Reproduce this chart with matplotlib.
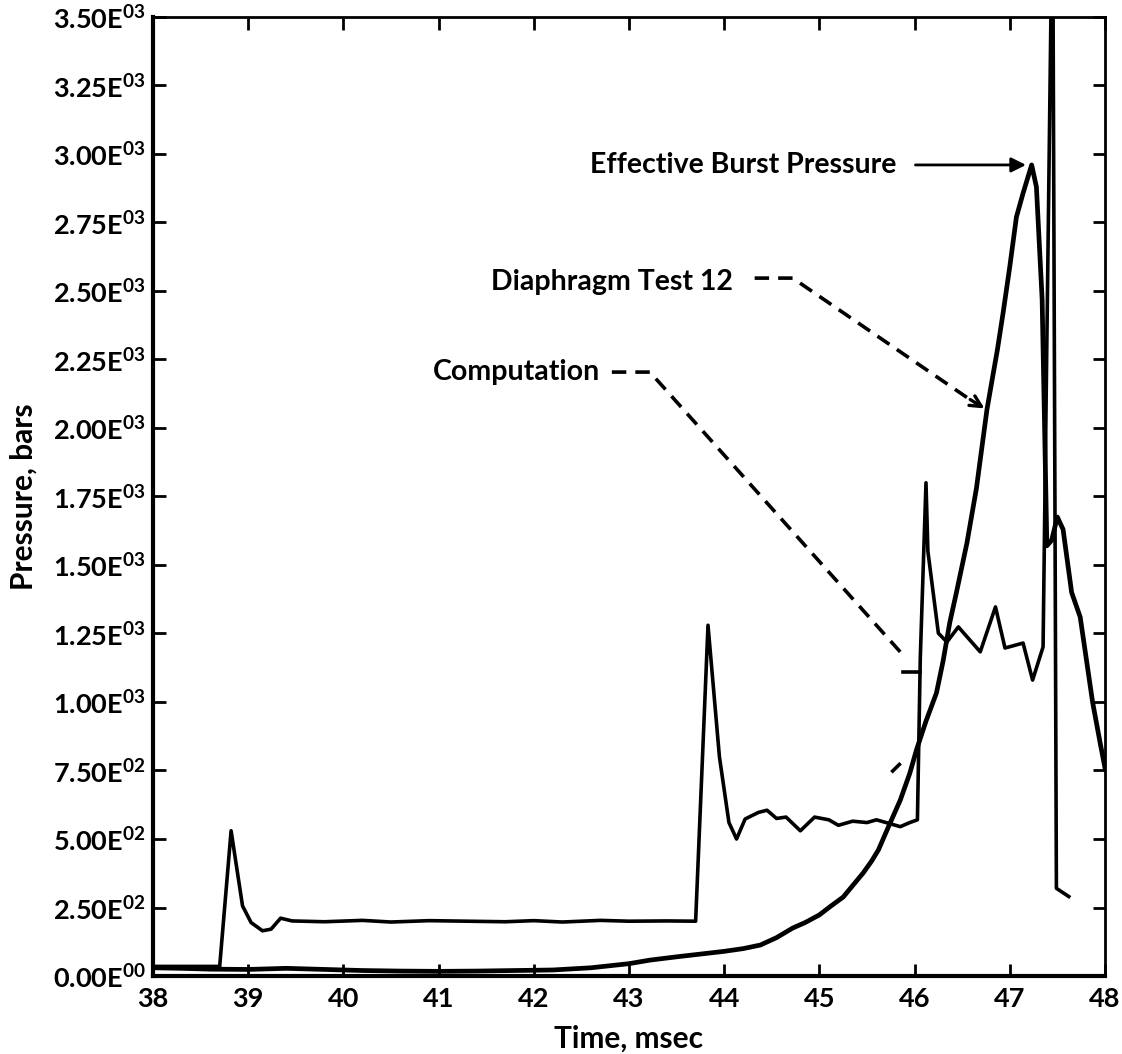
import matplotlib
matplotlib.use('Agg')
import matplotlib.pyplot as plt

plt.rcParams['font.family'] = ['Lato', 'DejaVu Sans']
plt.rcParams['font.weight'] = 'bold'
plt.rcParams['mathtext.fontset'] = 'custom'
plt.rcParams['mathtext.rm'] = 'Lato:bold'

# computation (step-like trace)
comp_t = [38.0, 38.70, 38.82, 38.94, 39.03, 39.15, 39.24, 39.34, 39.46, 39.8,
          40.2, 40.5, 40.9, 41.3, 41.7, 42.0, 42.3, 42.7, 43.0, 43.4,
          43.70, 43.83, 43.95, 44.05, 44.13, 44.22, 44.36, 44.45, 44.55, 44.65,
          44.8, 44.95, 45.1, 45.2, 45.35, 45.5, 45.6, 45.75, 45.85, 45.95,
          46.03, 46.06, 46.12, 46.14, 46.25, 46.34, 46.46, 46.69, 46.85, 46.95,
          47.14, 47.24, 47.35, 47.45, 47.49, 47.62]
comp_p = [35, 35, 530, 256, 195, 165, 171, 211, 201, 198,
          203, 197, 202, 200, 198, 202, 197, 203, 200, 201,
          200, 1280, 800, 560, 500, 573, 597, 605, 575, 580,
          530, 580, 570, 550, 565, 560, 570, 555, 545, 560,
          570, 1160, 1800, 1550, 1251, 1219, 1274, 1183, 1347, 1197,
          1215, 1080, 1201, 4000, 320, 290]

# diaphragm test 12 (measured)
diaph_t = [38.0, 38.3, 38.6, 39.0, 39.4, 39.8, 40.2, 40.6, 41.0, 41.4,
           41.8, 42.2, 42.6, 43.0, 43.22, 43.5, 43.8, 44.0, 44.2, 44.38,
           44.55, 44.72, 44.85, 45.0, 45.12, 45.25, 45.35, 45.46, 45.55, 45.62,
           45.72, 45.85, 45.95, 46.02, 46.12, 46.23, 46.30, 46.37, 46.44, 46.55,
           46.65, 46.76, 46.82, 46.87, 46.93, 47.0, 47.07, 47.14, 47.23, 47.28,
           47.34, 47.39, 47.44, 47.5, 47.56, 47.65, 47.74, 47.87, 47.95, 48.0]
diaph_p = [30, 28, 25, 24, 28, 24, 20, 18, 17, 18,
           20, 22, 30, 45, 58, 70, 82, 90, 100, 113,
           140, 175, 195, 223, 255, 288, 330, 376, 420, 460,
           540, 642, 740, 825, 930, 1033, 1150, 1290, 1400, 1580,
           1780, 2066, 2186, 2285, 2420, 2588, 2770, 2857, 2960, 2880,
           2470, 1570, 1590, 1675, 1630, 1400, 1310, 1000, 850, 760]

x_ticks = list(range(38, 49))
y_ticks = list(range(0, 3501, 250))


def sci_label(v):
    if v == 0:
        return r'0.00E$^{\mathrm{00}}$'
    exp = 3 if v >= 1000 else 2
    return r'%.2fE$^{\mathrm{%02d}}$' % (v / 10 ** exp, exp)


fig = plt.figure(figsize=(11.22, 10.54), dpi=100)
ax = fig.add_axes([0.1364, 0.074, 0.8484, 0.9099])

ax.plot(diaph_t, diaph_p, color='black', lw=3.4, solid_joinstyle='round')
ax.plot(comp_t, comp_p, color='black', lw=2.6, solid_joinstyle='round')

ax.set_xlim(38, 48)
ax.set_ylim(0, 3500)
ax.set_xticks(x_ticks)
ax.set_xticklabels([str(t) for t in x_ticks])
ax.set_yticks(y_ticks)
ax.set_yticklabels([sci_label(v) for v in y_ticks])
ax.tick_params(direction='in', length=9, width=2, top=True, right=True,
               labelsize=19.5)
ax.tick_params(axis='x', pad=8)
ax.tick_params(axis='y', pad=5)
for lab in ax.get_xticklabels() + ax.get_yticklabels():
    lab.set_fontweight('bold')

for side in ['left', 'bottom']:
    ax.spines[side].set_linewidth(3)
for side in ['top', 'right']:
    ax.spines[side].set_linewidth(2)

ax.set_xlabel('Time, msec', fontsize=21.5, fontweight='bold')
ax.set_ylabel('Pressure, bars', fontsize=21.5, fontweight='bold')
ax.xaxis.set_label_coords(0.5, -0.051)
ax.yaxis.set_label_coords(-0.121, 0.5)

# annotations
ax.text(45.81, 2960, 'Effective Burst Pressure', fontsize=20.5,
        fontweight='bold', ha='right', va='center')
ax.annotate('', xy=(47.20, 2960), xytext=(45.98, 2960),
            arrowprops=dict(arrowstyle='-|>', color='black', lw=2,
                            mutation_scale=22))

ax.text(44.09, 2533, 'Diaphragm Test 12', fontsize=20.5,
        fontweight='bold', ha='right', va='center')
ax.plot([44.32, 44.72, 46.56], [2547, 2547, 2109], color='black', lw=2.6,
        dashes=(4, 2.5))
ax.annotate('', xy=(46.76, 2066), xytext=(46.56, 2109),
            arrowprops=dict(arrowstyle='->', color='black', lw=2.4,
                            mutation_scale=20))

ax.text(42.70, 2204, 'Computation', fontsize=20.5,
        fontweight='bold', ha='right', va='center')
ax.plot([42.82, 43.22, 45.88], [2204, 2204, 1171], color='black', lw=2.6,
        dashes=(4, 2.5))
ax.plot([45.88, 46.06], [1109, 1109], color='black', lw=2.6)
# small stray stroke seen near the crossing in the original
ax.plot([45.77, 45.84], [748, 772], color='black', lw=2.6)

fig.savefig('out.png', dpi=100)
